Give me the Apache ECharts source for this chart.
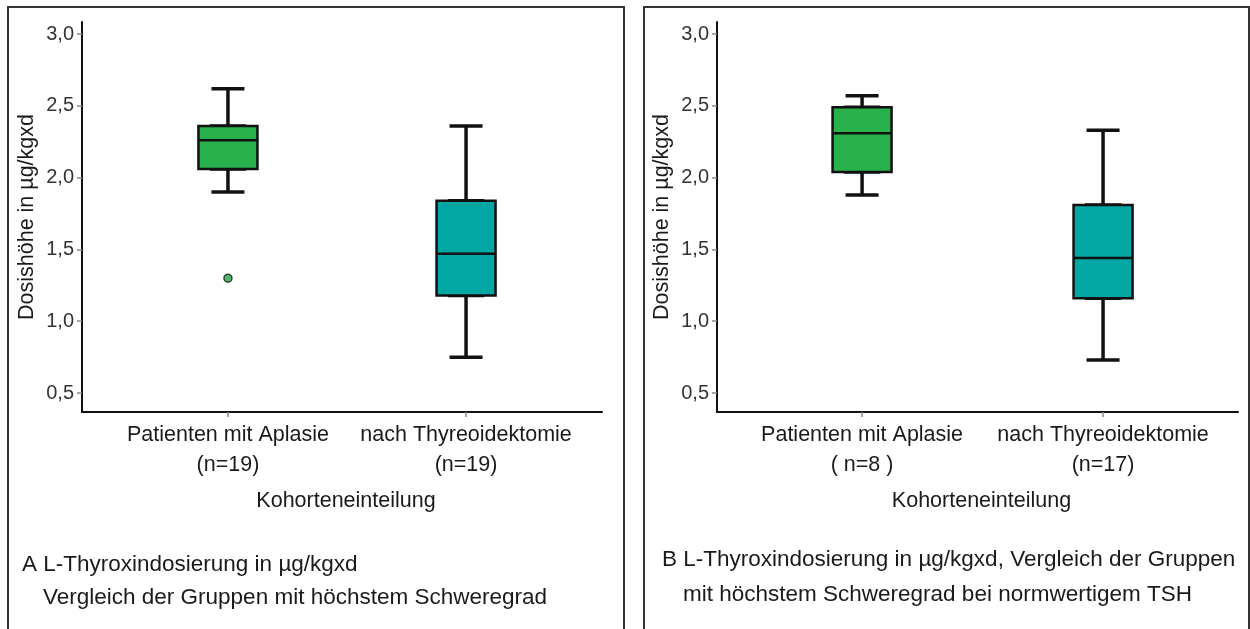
<!DOCTYPE html>
<html>
<head>
<meta charset="utf-8">
<script src="https://cdn.jsdelivr.net/npm/echarts@6/dist/echarts.min.js"></script>
<style>
html,body{margin:0;padding:0;background:#fff;}
#chart{width:1250px;height:629px;}
</style>
</head>
<body>
<div id="chart"></div>
<script>
// ---- data ----
const categoriesA = ['Patienten mit Aplasie\n(n=19)', 'nach Thyreoidektomie\n(n=19)'];
const categoriesB = ['Patienten mit Aplasie\n( n=8 )', 'nach Thyreoidektomie\n(n=17)'];
// [min, Q1, median, Q3, max]
const boxA1 = [1.90, 2.06, 2.26, 2.36, 2.62];
const boxA2 = [0.75, 1.18, 1.47, 1.84, 2.36];
const outlierA1 = [1.30];
const boxB1 = [1.88, 2.04, 2.31, 2.49, 2.57];
const boxB2 = [0.73, 1.16, 1.44, 1.81, 2.33];
const yTicks = [0.5, 1.0, 1.5, 2.0, 2.5, 3.0];
const xPositions = [1, 2];
const boxColors = ['#29b24b', '#00a7a3'];
const yAxisTitle = 'Dosishöhe in µg/kgxd';
const xAxisTitle = 'Kohorteneinteilung';
const captionA = ['A L-Thyroxindosierung in µg/kgxd', 'Vergleich der Gruppen mit höchstem Schweregrad'];
const captionB = ['B L-Thyroxindosierung in µg/kgxd, Vergleich der Gruppen', 'mit höchstem Schweregrad bei normwertigem TSH'];

const FONT = '"Liberation Sans", Arial, sans-serif';
const chart = echarts.init(document.getElementById('chart'), null, {renderer: 'canvas'});

function whiskerData(boxes) {
  return boxes.map((b, i) => [xPositions[i]].concat(b));
}
function bodyData(boxes) {
  return boxes.map((b, i) => ({
    value: [xPositions[i], b[1], b[1], b[2], b[3], b[3]],
    itemStyle: {color: boxColors[i]}
  }));
}

function yAxisDef(gridIndex) {
  return {
    type: 'value', gridIndex: gridIndex, min: 0.368, max: 3.084,
    axisLine: {show: true, lineStyle: {color: '#111', width: 2}},
    axisTick: {show: true, customValues: yTicks, length: 5, lineStyle: {color: '#888', width: 1.5}},
    axisLabel: {customValues: yTicks, fontSize: 20, fontFamily: FONT, color: '#333', margin: 8,
      formatter: v => v.toFixed(1).replace('.', ',')},
    splitLine: {show: false},
    name: yAxisTitle, nameLocation: 'middle', nameGap: 44,
    nameTextStyle: {fontSize: 21.5, fontFamily: FONT, color: '#1a1a1a'}
  };
}
function xAxisDef(gridIndex, min, max, cats) {
  return {
    type: 'value', gridIndex: gridIndex, min: min, max: max,
    axisLine: {show: true, lineStyle: {color: '#111', width: 2}},
    axisTick: {show: true, customValues: xPositions, length: 5, lineStyle: {color: '#888', width: 1.5}},
    axisLabel: {customValues: xPositions, fontSize: 21.5, fontFamily: FONT, color: '#1a1a1a',
      lineHeight: 30, margin: 8, formatter: v => cats[Math.round(v) - 1]},
    splitLine: {show: false},
    name: xAxisTitle, nameLocation: 'middle', nameGap: 78,
    nameTextStyle: {fontSize: 21.5, fontFamily: FONT, color: '#1a1a1a', padding: [0, 0, 0, 8]}
  };
}
function hiddenX(gridIndex, min, max) {
  return {type: 'value', gridIndex: gridIndex, min: min, max: max, show: false};
}

const whiskerStyle = {color: 'rgba(0,0,0,0)', borderColor: '#111', borderWidth: 3.5};
const bodyStyle = {borderColor: '#111', borderWidth: 2.5};

function panelSeries(xVis, xHid, yIdx, boxes) {
  return [
    {type: 'boxplot', xAxisIndex: xHid, yAxisIndex: yIdx, boxWidth: [33, 33],
     itemStyle: whiskerStyle, data: whiskerData(boxes), z: 2, silent: true},
    {type: 'boxplot', xAxisIndex: xVis, yAxisIndex: yIdx, boxWidth: [59, 59],
     itemStyle: bodyStyle, data: bodyData(boxes), z: 3, silent: true}
  ];
}

function captionText(lines, x1, y1, x2, y2) {
  return [
    {type: 'text', left: x1, top: y1, style: {text: lines[0], fontSize: 22.5, fontFamily: FONT, fill: '#1a1a1a'}},
    {type: 'text', left: x2, top: y2, style: {text: lines[1], fontSize: 22.5, fontFamily: FONT, fill: '#1a1a1a'}}
  ];
}

const option = {
  animation: false,
  backgroundColor: '#fff',
  grid: [
    {left: 82, top: 22, width: 520, height: 390},
    {left: 717, top: 22, width: 521, height: 390}
  ],
  xAxis: [
    xAxisDef(0, 0.387, 2.571, categoriesA),
    hiddenX(0, 0.387, 2.571),
    xAxisDef(1, 0.398, 2.560, categoriesB),
    hiddenX(1, 0.398, 2.560)
  ],
  yAxis: [yAxisDef(0), yAxisDef(1)],
  series: [].concat(
    panelSeries(0, 1, 0, [boxA1, boxA2]),
    [{type: 'scatter', xAxisIndex: 0, yAxisIndex: 0, symbol: 'circle', symbolSize: 8, z: 4, silent: true,
      itemStyle: {color: '#22a645', borderColor: '#1e1e1e', borderWidth: 1.5},
      data: outlierA1.map(v => [xPositions[0], v])}],
    panelSeries(2, 3, 1, [boxB1, boxB2])
  ),
  graphic: [
    {type: 'rect', shape: {x: 8, y: 7, width: 616, height: 640}, style: {fill: 'none', stroke: '#333', lineWidth: 2}, silent: true},
    {type: 'rect', shape: {x: 644, y: 7, width: 605, height: 640}, style: {fill: 'none', stroke: '#333', lineWidth: 2}, silent: true}
  ].concat(
    captionText(captionA, 22, 553, 43, 586),
    captionText(captionB, 662, 548, 683, 583)
  )
};
chart.setOption(option);
</script>
</body>
</html>
